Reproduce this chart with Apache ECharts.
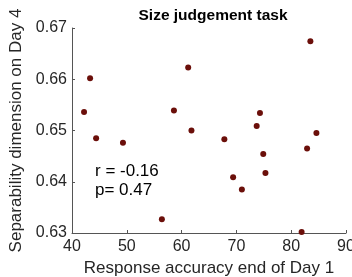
<!DOCTYPE html>
<html>
<head>
<meta charset="utf-8">
<script src="https://cdn.jsdelivr.net/npm/echarts@6/dist/echarts.min.js"></script>
<style>
html,body{margin:0;padding:0;background:#fff;}
#c{width:352px;height:277px;}
</style>
</head>
<body>
<div id="c"></div>
<script>
const accuracy = [42.2, 43.3, 44.4, 49.3, 56.4, 58.6, 61.2, 61.8, 67.8, 69.4, 71.0, 73.7, 74.3, 74.9, 75.3, 81.9, 82.9, 83.5, 84.6];
const separability = [0.6536, 0.6602, 0.6485, 0.6476, 0.6327, 0.6539, 0.6623, 0.6500, 0.6483, 0.6409, 0.6385, 0.6509, 0.6534, 0.6454, 0.6417, 0.6302, 0.6465, 0.6674, 0.6495];
const xTicks = {min: 40, max: 90, interval: 10};
const yTicks = {min: 0.63, max: 0.67, interval: 0.01};
const titleText = 'Size judgement task';
const xName = 'Response accuracy end of Day 1';
const yName = 'Separability dimension on Day 4';
const statsText = ['r = -0.16', 'p= 0.47'];

const points = accuracy.map((x, i) => [x, separability[i]]);
const font = 'Liberation Sans, Arial, Helvetica, sans-serif';
const axisCol = '#555555';
const textCol = '#262626';

const chart = echarts.init(document.getElementById('c'), null, {renderer: 'canvas'});
chart.setOption({
  animation: false,
  backgroundColor: '#ffffff',
  title: {
    text: titleText,
    left: 208, top: 3,
    textAlign: 'center',
    textStyle: {fontFamily: font, fontSize: 15.5, fontWeight: 'bold', color: '#000'}
  },
  grid: {left: 72, top: 28, right: 6, bottom: 44, containLabel: false, outerBoundsMode: 'none'},
  xAxis: {
    type: 'value',
    min: xTicks.min, max: xTicks.max, interval: xTicks.interval,
    name: xName, nameLocation: 'middle', nameGap: 26,
    nameTextStyle: {fontFamily: font, fontSize: 17, color: textCol},
    axisLine: {show: true, lineStyle: {color: axisCol, width: 1}},
    axisTick: {show: true, inside: true, length: 3, lineStyle: {color: axisCol}},
    axisLabel: {fontFamily: font, fontSize: 16, color: textCol, margin: 6, hideOverlap: false},
    splitLine: {show: false}
  },
  yAxis: {
    type: 'value',
    min: yTicks.min, max: yTicks.max, interval: yTicks.interval,
    name: yName, nameLocation: 'middle', nameGap: 37,
    nameTextStyle: {fontFamily: font, fontSize: 17, color: textCol},
    axisLine: {show: true, lineStyle: {color: axisCol, width: 1}},
    axisTick: {show: true, inside: true, length: 3, lineStyle: {color: axisCol}},
    axisLabel: {fontFamily: font, fontSize: 16, color: textCol, margin: 5,
      formatter: v => v.toFixed(2)},
    splitLine: {show: false}
  },
  graphic: [{
    type: 'text', left: 95, top: 162,
    style: {text: statsText.join('\n'), font: '17px ' + font, fill: '#000', lineHeight: 19}
  }],
  series: [{
    type: 'scatter',
    data: points,
    symbol: 'circle',
    symbolSize: 6,
    itemStyle: {color: '#6b0f0a', opacity: 1}
  }]
});
</script>
</body>
</html>
